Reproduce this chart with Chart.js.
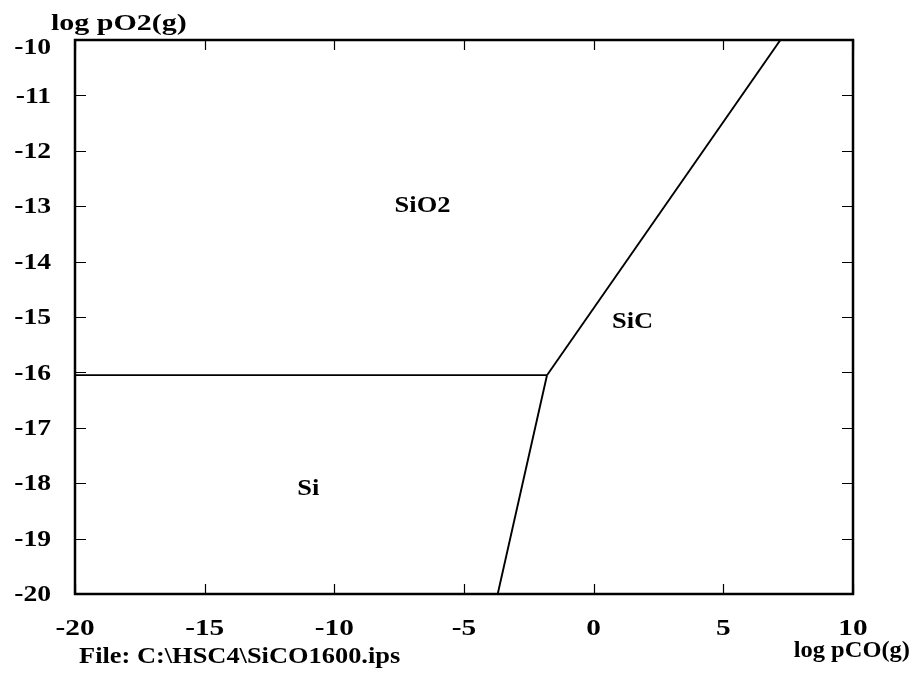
<!DOCTYPE html>
<html>
<head>
<meta charset="utf-8">
<script src="https://cdn.jsdelivr.net/npm/chart.js@4/dist/chart.umd.min.js"></script>
<style>
html,body{margin:0;padding:0;background:#fff;}
#wrap{width:914px;height:678px;position:relative;}
</style>
</head>
<body>
<div id="wrap"><canvas id="c" width="914" height="678"></canvas></div>
<script>
// Phase boundary lines (log pCO, log pO2)
const siSio2X = [-20, -1.8];
const siSio2Y = [-16.05, -16.05];
const siSicX = [-1.8, -3.7];
const siSicY = [-16.05, -20];
const sio2SicX = [-1.8, 7.2];
const sio2SicY = [-16.05, -10];
// Region labels
const regionNames = ['SiO2', 'SiC', 'Si'];
const regionX = [-6.6, 1.5, -11.0];
const regionY = [-13.0, -15.1, -18.1];
// Axis ranges / tick labels
const xTicks = [-20, -15, -10, -5, 0, 5, 10];
const xTickLabels = ['-20', '-15', '-10', '-5', '0', '5', '10'];
const yTicks = [-10, -11, -12, -13, -14, -15, -16, -17, -18, -19, -20];
const yTickLabels = ['-10', '-11', '-12', '-13', '-14', '-15', '-16', '-17', '-18', '-19', '-20'];
const xTitle = 'log pCO(g)';
const yTitle = 'log pO2(g)';
const fileNote = 'File: C:\\HSC4\\SiCO1600.ips';

const FONT = '"Liberation Serif", "Times New Roman", serif';

function pts(xs, ys){ return xs.map((x,i)=>({x:x, y:ys[i]})); }
function lineDs(xs, ys){
  return {data: pts(xs, ys), showLine: true, borderColor: '#000', borderWidth: 1.9,
          pointRadius: 0, fill: false, tension: 0};
}

function txt(ctx, s, x, y, size, sx, align, base){
  ctx.save();
  ctx.font = 'bold ' + size + 'px ' + FONT;
  ctx.textAlign = align;
  ctx.textBaseline = base;
  ctx.translate(x, y);
  ctx.scale(sx, 1);
  ctx.fillText(s, 0, 0);
  ctx.restore();
}

const decor = {
  id: 'decor',
  afterDraw(chart){
    const ctx = chart.ctx, a = chart.chartArea;
    const xs = chart.scales.x, ys = chart.scales.y;
    ctx.save();
    ctx.strokeStyle = '#000';
    ctx.lineWidth = 2.5;
    ctx.strokeRect(a.left, a.top, a.right - a.left, a.bottom - a.top);
    ctx.lineWidth = 1.2;
    ctx.beginPath();
    yTicks.forEach(v => {
      const p = Math.round(ys.getPixelForValue(v)) + 0.5;
      ctx.moveTo(a.left, p); ctx.lineTo(a.left + 11, p);
      ctx.moveTo(a.right, p); ctx.lineTo(a.right - 11, p);
    });
    xTicks.forEach(v => {
      const p = Math.round(xs.getPixelForValue(v)) + 0.5;
      ctx.moveTo(p, a.bottom); ctx.lineTo(p, a.bottom - 10);
      ctx.moveTo(p, a.top); ctx.lineTo(p, a.top + 10);
    });
    ctx.stroke();
    ctx.fillStyle = '#000';
    // tick labels
    yTicks.forEach((v, i) => {
      let p = ys.getPixelForValue(v);
      if (i === 0) p += 7;
      txt(ctx, yTickLabels[i], 51, p + 1, 24, 1.15, 'right', 'middle');
    });
    xTicks.forEach((v, i) => {
      txt(ctx, xTickLabels[i], xs.getPixelForValue(v), 629, 24, 1.22, 'center', 'middle');
    });
    // region labels
    regionNames.forEach((n, i) => {
      txt(ctx, n, xs.getPixelForValue(regionX[i]), ys.getPixelForValue(regionY[i]), 23, 1.15, 'center', 'middle');
    });
    // titles
    txt(ctx, yTitle, 51, 30, 24, 1.25, 'left', 'alphabetic');
    txt(ctx, fileNote, 79, 663, 24, 1.1, 'left', 'alphabetic');
    txt(ctx, xTitle, 910, 657, 24, 1.02, 'right', 'alphabetic');
    ctx.restore();
  }
};

new Chart(document.getElementById('c'), {
  type: 'scatter',
  data: { datasets: [lineDs(siSio2X, siSio2Y), lineDs(siSicX, siSicY), lineDs(sio2SicX, sio2SicY)] },
  options: {
    responsive: false,
    animation: false,
    devicePixelRatio: 1,
    layout: { padding: { left: 0, top: 40, right: 61, bottom: 0 } },
    plugins: { legend: { display: false }, tooltip: { enabled: false } },
    scales: {
      x: {
        type: 'linear', min: -20, max: 10,
        afterBuildTicks(s){ s.ticks = xTicks.map(v => ({value: v})); },
        afterFit(s){ s.height = 84; },
        grid: { display: false, drawTicks: false },
        border: { display: false },
        ticks: { display: false }
      },
      y: {
        type: 'linear', min: -20, max: -10,
        afterBuildTicks(s){ s.ticks = yTicks.map(v => ({value: v})); },
        afterFit(s){ s.width = 75; },
        grid: { display: false, drawTicks: false },
        border: { display: false },
        ticks: { display: false }
      }
    }
  },
  plugins: [decor]
});
</script>
</body>
</html>
